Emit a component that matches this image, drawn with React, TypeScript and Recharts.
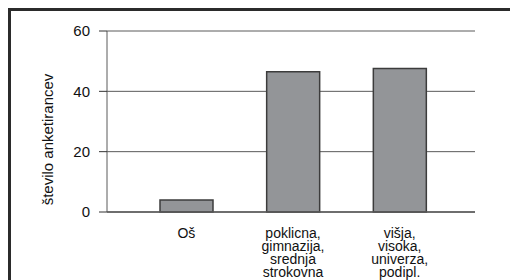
import React from 'react';
import { BarChart, Bar, XAxis, YAxis, CartesianGrid, Label } from 'recharts';

const categories = ['Oš', 'poklicna,\ngimnazija,\nsrednja\nstrokovna', 'višja,\nvisoka,\nuniverza,\npodipl.'];
const values = [4, 46.5, 47.6];
const yTicks = [0, 20, 40, 60];
const yLabel = 'število anketirancev';

const data = categories.map((c, i) => ({ name: c, value: values[i] }));

const FONT = '"Liberation Sans", Arial, Helvetica, sans-serif';

const CatTick = (props: any) => {
  const { x, y, payload } = props;
  const lines = String(payload.value).split('\n');
  return (
    <text x={x} y={y} textAnchor="middle" fontFamily={FONT} fontSize={14} fill="#111">
      {lines.map((l: string, i: number) => (
        <tspan key={i} x={x} dy={i === 0 ? 18 : 13}>{l}</tspan>
      ))}
    </text>
  );
};

const YLabelContent = (props: any) => {
  const vb = props.viewBox || {};
  const cx = vb.x + vb.width / 2 - 6;
  const cy = vb.y + vb.height / 2 + 18;
  return (
    <text
      x={cx}
      y={cy}
      transform={`rotate(-90, ${cx}, ${cy})`}
      textAnchor="middle"
      dominantBaseline="central"
      fontFamily={FONT}
      fontSize={15}
      fill="#111"
    >
      {yLabel}
    </text>
  );
};

export default function App() {
  return (
    <div style={{ position: 'absolute', left: 0, top: 0, width: 510, height: 280, overflow: 'hidden', background: '#fff' }}>
      <div
        style={{
          position: 'absolute',
          left: 8,
          top: 8,
          width: 520,
          height: 290,
          borderTop: '3px solid #2b2b2b',
          borderLeft: '3px solid #2b2b2b',
        }}
      />
      <div style={{ position: 'absolute', left: 0, top: 0 }}>
        <BarChart width={510} height={280} data={data} margin={{ top: 31, right: 35, bottom: 8, left: 0 }} barSize={53}>
          <CartesianGrid horizontal vertical={false} stroke="#5a5a5a" strokeWidth={1} />
          <XAxis
            dataKey="name"
            interval={0}
            height={60}
            padding={{ left: 26, right: 22 }}
            tickLine={false}
            axisLine={{ stroke: '#5a5a5a', strokeWidth: 1.5 }}
            tick={<CatTick />}
          />
          <YAxis
            domain={[0, 60]}
            ticks={yTicks}
            width={107}
            tickSize={8}
            tickMargin={9}
            axisLine={{ stroke: '#5a5a5a', strokeWidth: 1 }}
            tickLine={{ stroke: '#333', strokeWidth: 1 }}
            tick={{ fontFamily: FONT, fontSize: 15, fill: '#111' }}
          >
            <Label content={<YLabelContent />} />
          </YAxis>
          <Bar dataKey="value" fill="#939598" stroke="#3c3c3c" strokeWidth={1.5} isAnimationActive={false} />
        </BarChart>
      </div>
    </div>
  );
}
